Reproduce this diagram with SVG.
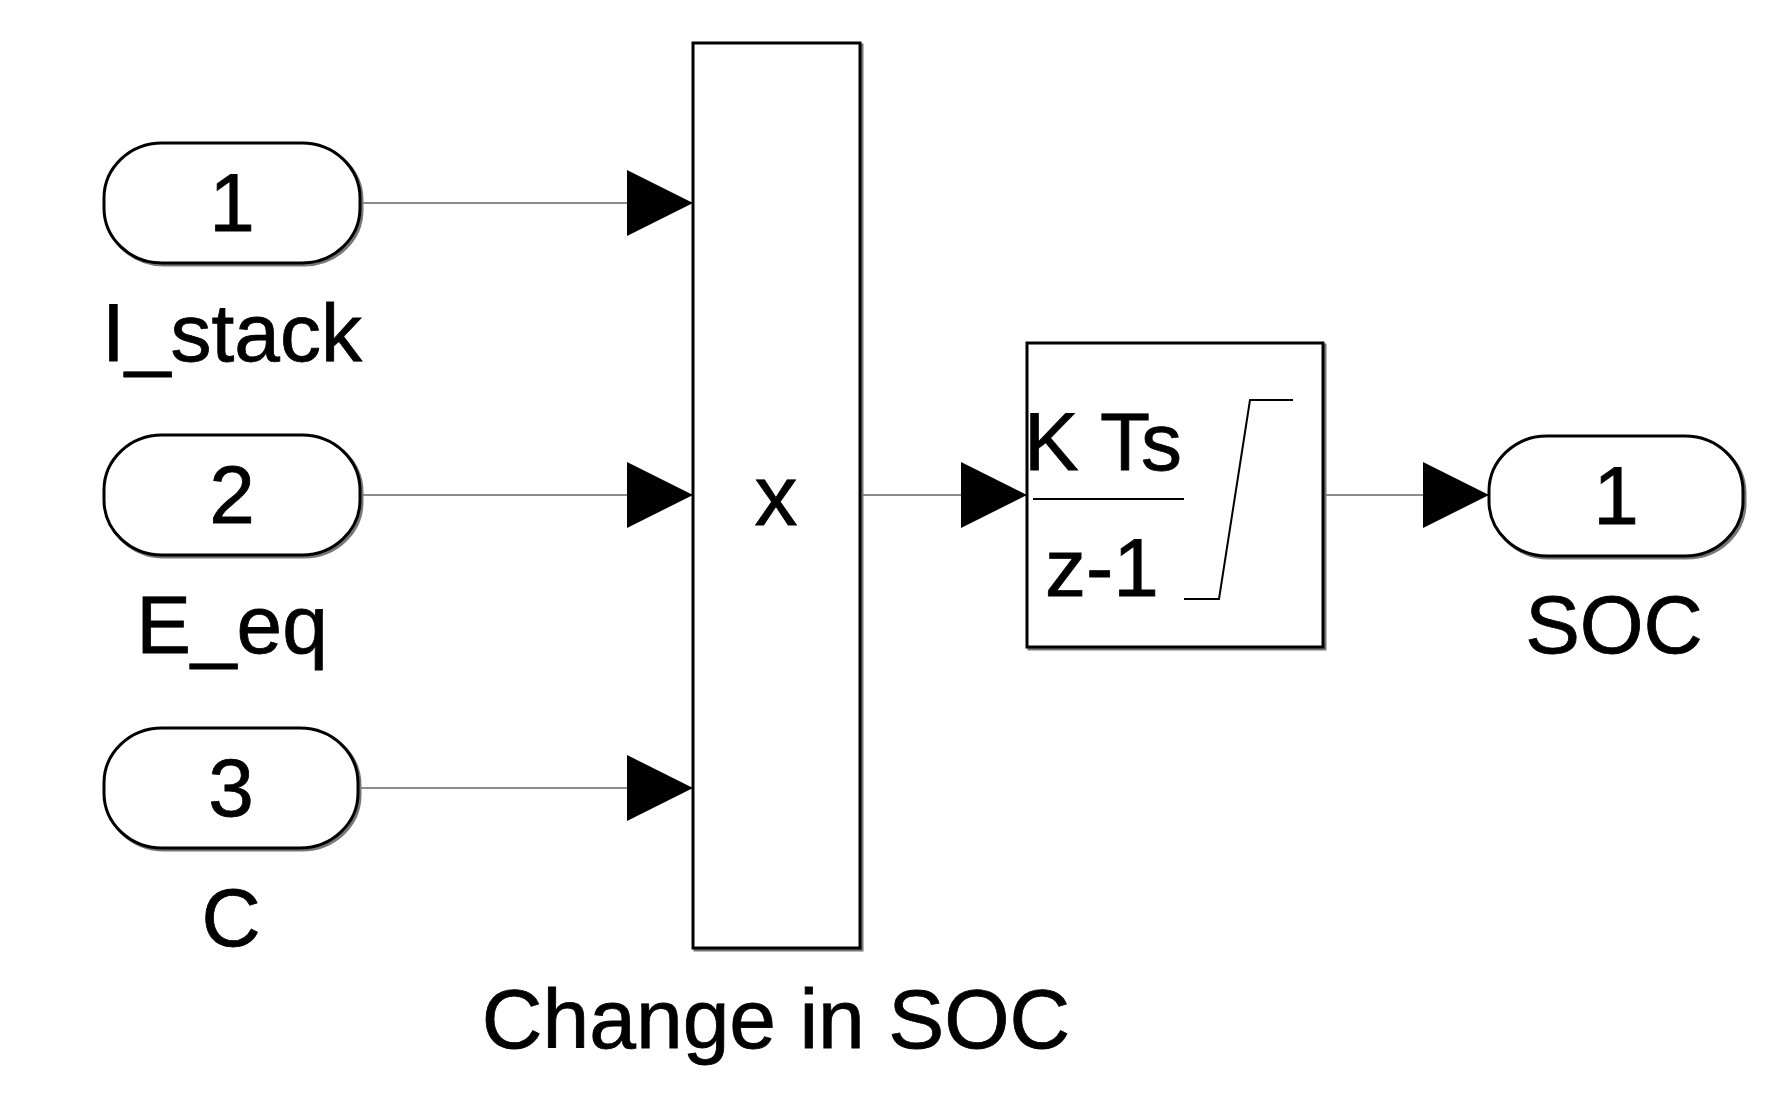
<svg xmlns="http://www.w3.org/2000/svg" width="1790" height="1104" viewBox="0 0 1790 1104">
<style>
text{font-family:"Liberation Sans",Arial,sans-serif;fill:#000;stroke:#000;stroke-width:0.8}
.t{font-size:82px;text-anchor:middle}
.blk{fill:#fff;stroke:#000;stroke-width:3}
.sh{fill:none;stroke:#777;stroke-width:3}
.wire{fill:none;stroke:#8c8c8c;stroke-width:2}
.thin{fill:none;stroke:#000;stroke-width:2}
</style>
<defs>
<marker id="arr" viewBox="0 0 66 66" refX="66" refY="33" markerWidth="66" markerHeight="66" markerUnits="userSpaceOnUse" orient="auto">
<path d="M0,0 L66,33 L0,66 Z" fill="#000"/>
</marker>
</defs>
<rect width="1790" height="1104" fill="#fff"/>

<g id="connectors">
<path class="wire" d="M360,203 H693" marker-end="url(#arr)"/>
<path class="wire" d="M360,495 H693" marker-end="url(#arr)"/>
<path class="wire" d="M358,788 H693" marker-end="url(#arr)"/>
<path class="wire" d="M860,495 H1027" marker-end="url(#arr)"/>
<path class="wire" d="M1323,495 H1489" marker-end="url(#arr)"/>
</g>

<g id="in1">
<rect class="sh" x="106" y="145" width="256" height="120" rx="58" ry="55"/>
<rect class="blk" x="104" y="143" width="256" height="120" rx="58" ry="55"/>
<text class="t" x="232" y="231">1</text>
<text class="t" x="232" y="361">I_stack</text>
</g>

<g id="in2">
<rect class="sh" x="106" y="437" width="256" height="120" rx="58" ry="55"/>
<rect class="blk" x="104" y="435" width="256" height="120" rx="58" ry="55"/>
<text class="t" x="232" y="523">2</text>
<text class="t" x="232" y="653">E_eq</text>
</g>

<g id="in3">
<rect class="sh" x="106" y="730" width="254" height="120" rx="58" ry="55"/>
<rect class="blk" x="104" y="728" width="254" height="120" rx="58" ry="55"/>
<text class="t" x="231" y="816">3</text>
<text class="t" x="231" y="946">C</text>
</g>

<g id="product">
<rect class="sh" x="695" y="45" width="167" height="905"/>
<rect class="blk" x="693" y="43" width="167" height="905"/>
<text class="t" x="776" y="525" style="font-size:86px">x</text>
<text class="t" x="776" y="1048" style="font-size:84px">Change in SOC</text>
</g>

<g id="integrator">
<rect class="sh" x="1029" y="345" width="296" height="304"/>
<rect class="blk" x="1027" y="343" width="296" height="304"/>
<text x="1024" y="470" style="font-size:82px">K Ts</text>
<line class="thin" x1="1033" y1="499" x2="1184" y2="499"/>
<text x="1045" y="596" style="font-size:82px">z-1</text>
<path class="thin" d="M1184,599 H1219 L1250,400 H1293"/>
</g>

<g id="out1">
<rect class="sh" x="1491" y="438" width="254" height="120" rx="58" ry="55"/>
<rect class="blk" x="1489" y="436" width="254" height="120" rx="58" ry="55"/>
<text class="t" x="1616" y="524">1</text>
<text class="t" x="1614" y="653">SOC</text>
</g>
</svg>
